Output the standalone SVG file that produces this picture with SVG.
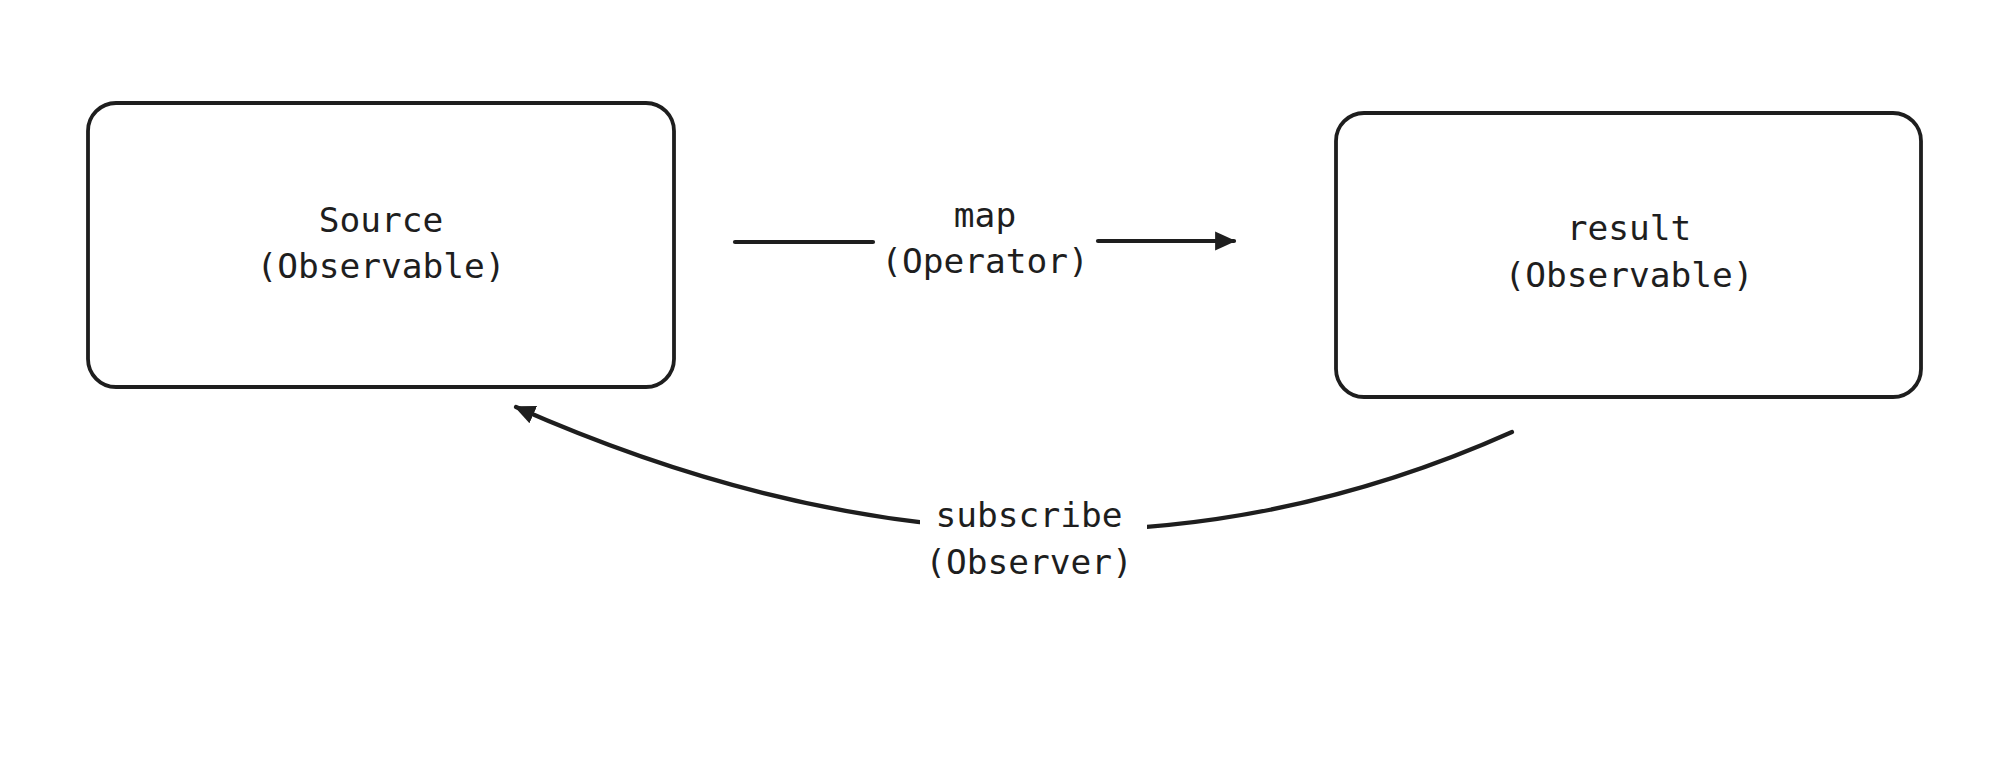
<svg xmlns="http://www.w3.org/2000/svg" width="2010" height="774" viewBox="0 0 2010 774">
<style>
.box{fill:#ffffff;stroke:#1e1e1e;stroke-width:3.8}
.lbl{font-family:"DejaVu Sans Mono","Liberation Mono",monospace;font-size:34.5px;fill:#1e1e1e;text-anchor:middle}
.edge{fill:none;stroke:#1e1e1e;stroke-width:4.2;stroke-linecap:round}
</style>
<defs>
<marker id="ah" viewBox="0 0 10 10" refX="9" refY="5" markerWidth="5" markerHeight="5" orient="auto" markerUnits="strokeWidth">
<path d="M0,0.5 L10,5 L0,9.5 z" fill="#1e1e1e"/>
</marker>
<mask id="m2" maskUnits="userSpaceOnUse" x="0" y="0" width="2010" height="774">
<rect x="0" y="0" width="2010" height="774" fill="#fff"/>
<rect x="920" y="480" width="227" height="110" fill="#000"/>
</mask>
</defs>
<rect width="2010" height="774" fill="#ffffff"/>
<g id="source">
<rect class="box" x="88" y="103" width="586" height="284" rx="28"/>
<text class="lbl" x="381" y="232">Source</text>
<text class="lbl" x="381" y="278">(Observable)</text>
</g>
<g id="result">
<rect class="box" x="1336" y="113" width="585" height="284" rx="28"/>
<text class="lbl" x="1629" y="240">result</text>
<text class="lbl" x="1629" y="287">(Observable)</text>
</g>
<g id="connectors">
<path class="edge" d="M735 242 L873 242"/>
<path class="edge" d="M1098 241 L1234 241" marker-end="url(#ah)"/>
<text class="lbl" x="985" y="227">map</text>
<text class="lbl" x="985" y="273">(Operator)</text>
<path class="edge" d="M1512 432 Q1045 641 516 407" mask="url(#m2)" marker-end="url(#ah)"/>
<text class="lbl" x="1029" y="527">subscribe</text>
<text class="lbl" x="1029" y="574">(Observer)</text>
</g>
</svg>
